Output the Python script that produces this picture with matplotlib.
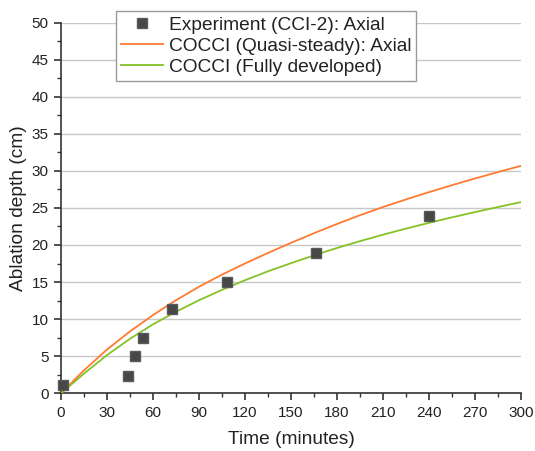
import matplotlib
matplotlib.use("Agg")
import matplotlib.pyplot as plt
from matplotlib.ticker import MultipleLocator

plt.rcParams['font.family'] = ['Liberation Sans', 'DejaVu Sans']

# Experimental data (CCI-2 axial)
exp_time = [1.5, 43.5, 48.5, 53.7, 72.2, 108.1, 166.6, 240.0]
exp_depth = [1.1, 2.3, 5.0, 7.5, 11.3, 15.05, 18.95, 23.95]

# Model curves
model_time = [0, 15, 30, 45, 60, 75, 90, 105, 120, 135, 150, 165, 180,
              195, 210, 225, 240, 255, 270, 285, 300]
quasi_steady = [0, 3.1, 5.9, 8.35, 10.55, 12.55, 14.37, 16.01, 17.51, 18.93,
                20.29, 21.59, 22.84, 24.02, 25.12, 26.15, 27.13, 28.07,
                28.97, 29.84, 30.68]
fully_developed = [0, 2.65, 5.15, 7.35, 9.3, 11.0, 12.55, 13.95, 15.25,
                   16.45, 17.55, 18.6, 19.6, 20.52, 21.39, 22.21, 22.99,
                   23.73, 24.44, 25.12, 25.79]

labels = ["Experiment (CCI-2): Axial",
          "COCCI (Quasi-steady): Axial",
          "COCCI (Fully developed)"]

fig = plt.figure(figsize=(5.35, 4.51), dpi=100)
ax = fig.add_axes([0.114, 0.128, 0.86, 0.822])

ax.plot(model_time, quasi_steady, color='#FF7A30', lw=1.3, label=labels[1], zorder=3)
ax.plot(model_time, fully_developed, color='#84C225', lw=1.3, label=labels[2], zorder=3)
ax.plot(exp_time, exp_depth, linestyle='none', marker='s', ms=6.5,
        color='#474747', mec='#5a5a5a', label=labels[0], zorder=4, clip_on=False)

ax.set_xlim(0, 300)
ax.set_ylim(0, 50)
ax.xaxis.set_major_locator(MultipleLocator(30))
ax.xaxis.set_minor_locator(MultipleLocator(15))
ax.yaxis.set_major_locator(MultipleLocator(5))
ax.yaxis.set_minor_locator(MultipleLocator(2.5))

ax.grid(axis='y', which='major', color='#c8c8c8', lw=1.0)
ax.set_axisbelow(True)

for s in ['top', 'right']:
    ax.spines[s].set_visible(False)
for s in ['left', 'bottom']:
    ax.spines[s].set_color('#333333')
    ax.spines[s].set_linewidth(1.2)

ax.tick_params(which='major', direction='out', length=5, width=1.2,
               color='#333333', labelsize=11, labelcolor='#222222', pad=4)
ax.tick_params(which='minor', direction='out', length=3, width=1.0, color='#333333')

ax.set_xlabel("Time (minutes)", fontsize=13.8, color='#222222', labelpad=8)
ax.set_ylabel("Ablation depth (cm)", fontsize=13.8, color='#222222', labelpad=3)

h, l = ax.get_legend_handles_labels()
order = [2, 0, 1]
leg = ax.legend([h[i] for i in order], [l[i] for i in order],
                loc='upper left', bbox_to_anchor=(0.12, 1.03),
                borderaxespad=0, fontsize=13.8, frameon=True, fancybox=False,
                edgecolor='#999999', framealpha=1, labelspacing=0.2,
                handlelength=2.2, handletextpad=0.3, borderpad=0.25)
leg.get_frame().set_linewidth(1.0)
for t in leg.get_texts():
    t.set_color('#222222')

fig.savefig("out.png", dpi=100)
